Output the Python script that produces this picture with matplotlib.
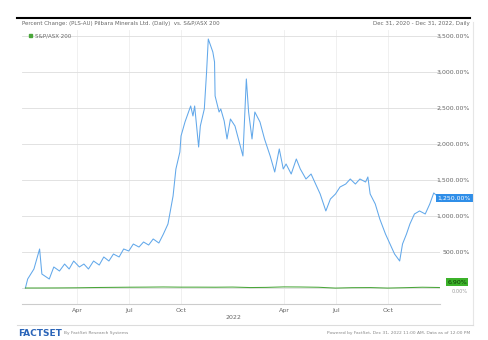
import numpy as np
import pandas as pd
import matplotlib
matplotlib.use("Agg")
import matplotlib.pyplot as plt
import matplotlib.transforms as mtransforms

# stock (blue) percent change
stock_dates = ["2020-12-31", "2021-01-04", "2021-01-15", "2021-01-25", "2021-01-29", "2021-02-11",
               "2021-02-19", "2021-03-01", "2021-03-10", "2021-03-18", "2021-03-26", "2021-04-05",
               "2021-04-13", "2021-04-21", "2021-04-30", "2021-05-10", "2021-05-18", "2021-05-27",
               "2021-06-04", "2021-06-14", "2021-06-22", "2021-07-01", "2021-07-09", "2021-07-19",
               "2021-07-27", "2021-08-05", "2021-08-13", "2021-08-23", "2021-08-31", "2021-09-08",
               "2021-09-17", "2021-09-22", "2021-09-29", "2021-10-01", "2021-10-08", "2021-10-18",
               "2021-10-22", "2021-10-25", "2021-11-01", "2021-11-04", "2021-11-11", "2021-11-15",
               "2021-11-18", "2021-11-26", "2021-11-29", "2021-11-30", "2021-12-07", "2021-12-10",
               "2021-12-16", "2021-12-21", "2021-12-27", "2022-01-04", "2022-01-18", "2022-01-24",
               "2022-01-28", "2022-02-03", "2022-02-08", "2022-02-17", "2022-02-25", "2022-03-07",
               "2022-03-15", "2022-03-23", "2022-03-30", "2022-04-04", "2022-04-13", "2022-04-22",
               "2022-04-29", "2022-05-09", "2022-05-18", "2022-05-26", "2022-06-03", "2022-06-13",
               "2022-06-21", "2022-06-30", "2022-07-08", "2022-07-18", "2022-07-26", "2022-08-04",
               "2022-08-12", "2022-08-22", "2022-08-26", "2022-08-30", "2022-09-08", "2022-09-16",
               "2022-09-26", "2022-10-04", "2022-10-12", "2022-10-21", "2022-10-26", "2022-11-02",
               "2022-11-08", "2022-11-16", "2022-11-25", "2022-12-05", "2022-12-13", "2022-12-20",
               "2022-12-30"]
stock_pct = [0, 125, 264, 542, 194, 125,
             292, 236, 333, 264, 375, 292,
             333, 264, 375, 319, 431, 375,
             472, 431, 542, 514, 611, 569,
             639, 597, 681, 625, 750, 889,
             1278, 1653, 1889, 2111, 2306, 2528,
             2389, 2528, 1958, 2250, 2486, 3000,
             3458, 3278, 3139, 2667, 2444, 2486,
             2320, 2070, 2347, 2250, 1833, 2903,
             2444, 2070, 2444, 2306, 2070, 1833,
             1611, 1931, 1653, 1722, 1583, 1792,
             1653, 1514, 1583, 1444, 1306, 1070,
             1236, 1306, 1403, 1444, 1514, 1444,
             1514, 1472, 1542, 1306, 1167, 958,
             750, 611, 472, 375, 611, 750,
             889, 1028, 1070, 1028, 1167, 1320,
             1250]

# index (green) percent change
index_dates = ["2020-12-31", "2021-01-29", "2021-02-26", "2021-03-31", "2021-04-30", "2021-05-31",
               "2021-06-30", "2021-07-30", "2021-08-31", "2021-09-30", "2021-10-29", "2021-11-30",
               "2021-12-31", "2022-01-31", "2022-02-28", "2022-03-31", "2022-04-29", "2022-05-31",
               "2022-06-30", "2022-07-29", "2022-08-31", "2022-09-30", "2022-10-31", "2022-11-30",
               "2022-12-30"]
index_pct = [0, 0.3, 1.1, 3.0, 6.6, 8.9,
             11.0, 12.2, 14.4, 12.0, 12.0, 11.0,
             13.0, 6.4, 8.6, 15.4, 14.1, 10.4,
             -0.9, 4.7, 6.1, -0.7, 4.8, 10.7,
             6.9]

yticks = [0, 500, 1000, 1500, 2000, 2500, 3000, 3500]
xtick_dates = ["2021-04-01", "2021-07-01", "2021-10-01", "2022-04-01", "2022-07-01", "2022-10-01"]
xtick_labels = ["Apr", "Jul", "Oct", "Apr", "Jul", "Oct"]

blue = "#62a8ea"
green = "#4aa63a"
grey = "#666666"

sd = pd.to_datetime(stock_dates)
idd = pd.to_datetime(index_dates)

W, H = 489, 340
fig = plt.figure(figsize=(W / 100, H / 100), dpi=100)
ax = fig.add_axes([22 / W, 1 - 304 / H, (440 - 22) / W, (304 - 30) / H])

ax.plot(sd, stock_pct, color=blue, lw=0.75, zorder=3)
ax.plot(idd, index_pct, color=green, lw=0.75, zorder=3)

ax.set_ylim(-222, 3583)
ax.set_xlim(pd.Timestamp("2020-12-25"), pd.Timestamp("2022-12-31"))

for s in ax.spines.values():
    s.set_visible(False)
ax.spines["bottom"].set_visible(True)
ax.spines["bottom"].set_color("#cccccc")
ax.spines["bottom"].set_linewidth(0.8)

ax.set_yticks(yticks)
ax.set_yticklabels([])
ax.tick_params(axis="y", length=0)
ax.grid(axis="y", color="#dddddd", lw=0.6)

qticks = pd.to_datetime(xtick_dates)
ax.set_xticks(qticks)
ax.set_xticklabels(xtick_labels, fontsize=4.5, color=grey)
ax.tick_params(axis="x", length=0, pad=3)
for t in qticks:
    ax.axvline(t, color="#eeeeee", lw=0.6, zorder=0)
ax.text(pd.Timestamp("2022-01-01"), -0.048, "2022", transform=ax.get_xaxis_transform(),
        ha="center", va="center", fontsize=4.5, color=grey)

# right-hand labels
tr = mtransforms.blended_transform_factory(fig.transFigure, ax.transData)
for v in yticks:
    if v == 0:
        ax.text(468 / W, v - 45, f"{v:,.2f}%", transform=tr, ha="right", va="center",
                fontsize=3.6, color="#999999", zorder=2)
    else:
        ax.text(470 / W, v, f"{v:,.2f}%", transform=tr, ha="right", va="center",
                fontsize=4.5, color=grey, zorder=2)

# last-value badges
ax.text(471 / W, stock_pct[-1], f"{stock_pct[-1]:,.2f}%", transform=tr, ha="right", va="center",
        fontsize=4.5, color="white", zorder=5,
        bbox=dict(boxstyle="square,pad=0.25", fc="#2f8ee8", ec="none"))
ax.text(467 / W, index_pct[-1] + 75, f"{index_pct[-1]:.2f}%", transform=tr, ha="right", va="center",
        fontsize=4.5, color="#0d3a05", zorder=5,
        bbox=dict(boxstyle="square,pad=0.2", fc="#3cb22a", ec="none"))

# header
fig.add_artist(plt.Line2D([17 / W, 470 / W], [1 - 18 / H, 1 - 18 / H], color="black", lw=1.5))
fig.text(22 / W, 1 - 23 / H, "Percent Change: (PLS-AU) Pilbara Minerals Ltd. (Daily)  vs. S&P/ASX 200",
         fontsize=4, color=grey, va="center")
fig.text(470 / W, 1 - 23 / H, "Dec 31, 2020 - Dec 31, 2022, Daily", fontsize=4, color=grey,
         va="center", ha="right")
fig.add_artist(plt.Rectangle((29 / W, 1 - 37 / H), 3.5 / W, 3.5 / H, color=green))
fig.text(35 / W, 1 - 35.5 / H, "S&P/ASX 200", fontsize=4, color=grey, va="center")

# panel frame
fig.add_artist(plt.Line2D([473 / W, 473 / W], [1 - 22 / H, 1 - 325 / H], color="#e6e6e6", lw=0.8))
fig.add_artist(plt.Line2D([17 / W, 473 / W], [1 - 325 / H, 1 - 325 / H], color="#dcdcdc", lw=0.8))

# footer
fig.text(18 / W, 1 - 333 / H, "FACTSET", fontsize=6.5, fontweight="bold", color="#2a64b8", va="center")
fig.text(64 / W, 1 - 333 / H, "By FactSet Research Systems", fontsize=3.2, color="#888888", va="center")
fig.text(470 / W, 1 - 333 / H, "Powered by FactSet, Dec 31, 2022 11:00 AM, Data as of 12:00 PM",
         fontsize=3.2, color="#888888", va="center", ha="right")

fig.savefig("out.png", dpi=100)
